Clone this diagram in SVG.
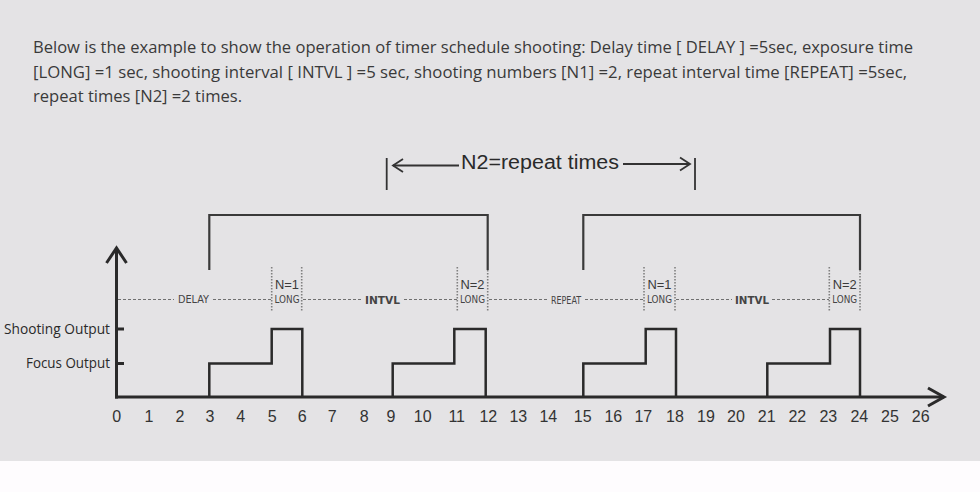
<svg xmlns="http://www.w3.org/2000/svg" width="980" height="492" viewBox="0 0 980 492">
<style>
.hdr{font-family:"Open Sans","Noto Sans",sans-serif;font-size:16px;fill:#3a3a3a}
.ylab{font-family:"Open Sans","Noto Sans",sans-serif;font-size:14px;fill:#2a2a2a;text-anchor:end}
.num{font-family:"Liberation Sans",Arial,sans-serif;font-size:16px;fill:#333;text-anchor:middle}
.small{font-family:"DejaVu Sans Condensed","Liberation Sans",sans-serif;font-size:11px;fill:#444;text-anchor:middle}
.nlab{font-family:"Liberation Sans",Arial,sans-serif;font-size:13px;fill:#3a3a3a;text-anchor:middle}
.big{font-family:"Liberation Sans",Arial,sans-serif;font-size:20px;fill:#2a2a2a}
.axis{stroke:#2a2a2a;stroke-width:3;fill:none}
.pulse{stroke:#2a2a2a;stroke-width:2.5;fill:none}
.brk{stroke:#3a3a3a;stroke-width:2.2;fill:none}
.dash{stroke:#707070;stroke-width:1;stroke-dasharray:3 2;fill:none}
.dot{stroke:#808080;stroke-width:1.6;stroke-dasharray:1.5 1.5;fill:none}
.thin{stroke:#333;stroke-width:1.8;fill:none}
</style>
<rect x="0" y="0" width="980" height="461" fill="#e4e3e5"/>
<rect x="0" y="461" width="980" height="31" fill="#fefcfe"/>
<g id="header">
<text class="hdr" x="33" y="53" textLength="880" lengthAdjust="spacingAndGlyphs">Below is the example to show the operation of timer schedule shooting: Delay time [ DELAY ] =5sec, exposure time</text>
<text class="hdr" x="33" y="77.5" textLength="874" lengthAdjust="spacingAndGlyphs">[LONG] =1 sec, shooting interval [ INTVL ] =5 sec, shooting numbers [N1] =2, repeat interval time [REPEAT] =5sec,</text>
<text class="hdr" x="33" y="102" textLength="209" lengthAdjust="spacingAndGlyphs">repeat times [N2] =2 times.</text>
</g>
<g id="axes">
<path class="axis" d="M116.5 398.5 V249"/>
<path class="axis" d="M106.5 263 L116.5 248 L126.5 263"/>
<path class="axis" d="M115 397 H944"/>
<path class="axis" d="M928 388 L944 397 L928 406"/>
<path class="axis" d="M116.5 329 H124 M116.5 363.5 H124"/>
<text class="ylab" x="110" y="334" textLength="106" lengthAdjust="spacingAndGlyphs">Shooting Output</text>
<text class="ylab" x="110" y="368" textLength="84" lengthAdjust="spacingAndGlyphs">Focus Output</text>
</g>
<g id="ticks">
<text class="num" x="116.7" y="421.7">0</text>
<text class="num" x="149" y="421.7">1</text>
<text class="num" x="180" y="421.7">2</text>
<text class="num" x="210" y="421.7">3</text>
<text class="num" x="240.7" y="421.7">4</text>
<text class="num" x="272.3" y="421.7">5</text>
<text class="num" x="302.3" y="421.7">6</text>
<text class="num" x="332.3" y="421.7">7</text>
<text class="num" x="364.3" y="421.7">8</text>
<text class="num" x="391" y="421.7">9</text>
<text class="num" x="422.7" y="421.7">10</text>
<text class="num" x="456.7" y="421.7">11</text>
<text class="num" x="488.3" y="421.7">12</text>
<text class="num" x="518.3" y="421.7">13</text>
<text class="num" x="548.3" y="421.7">14</text>
<text class="num" x="582.7" y="421.7">15</text>
<text class="num" x="613.3" y="421.7">16</text>
<text class="num" x="643.3" y="421.7">17</text>
<text class="num" x="675" y="421.7">18</text>
<text class="num" x="706" y="421.7">19</text>
<text class="num" x="736" y="421.7">20</text>
<text class="num" x="766.7" y="421.7">21</text>
<text class="num" x="797.3" y="421.7">22</text>
<text class="num" x="828.3" y="421.7">23</text>
<text class="num" x="859.3" y="421.7">24</text>
<text class="num" x="890" y="421.7">25</text>
<text class="num" x="920.7" y="421.7">26</text>
</g>
<g id="pulses">
<path class="pulse" d="M209.3 397 V363.5 H271.7 V329 H302.3 V397"/>
<path class="pulse" d="M392.7 397 V363.5 H454.3 V329 H485.7 V397"/>
<path class="pulse" d="M583.3 397 V363.5 H645.7 V329 H676 V397"/>
<path class="pulse" d="M767.3 397 V363.5 H830 V329 H860 V397"/>
</g>
<g id="connectors">
<path class="dash" d="M118 299.5 H174 M213 299.5 H271 M303 299.5 H361 M404 299.5 H457 M489 299.5 H547 M585 299.5 H644 M676 299.5 H732 M772 299.5 H829"/>
<path class="dot" d="M271.7 267 V311 M301.7 267 V311"/>
<path class="dot" d="M457.3 267 V311 M487.7 270 V311"/>
<path class="dot" d="M644 267 V311 M675 267 V311"/>
<path class="dot" d="M829.3 267 V311 M860 270 V311"/>
<path class="brk" d="M209.3 270 V215 H487.7 V270"/>
<path class="brk" d="M583.3 270 V215 H860 V270"/>
<path class="thin" d="M386.7 158 V190"/>
<path class="thin" d="M393 165.5 H459"/>
<path class="thin" d="M403 159 L393 165.5 L403 172"/>
<path class="thin" d="M623 164 H690"/>
<path class="thin" d="M680 157.5 L690 164 L680 170.5"/>
<path class="thin" d="M695 158 V190"/>
</g>
<g id="labels">
<text class="big" x="461" y="169" textLength="158" lengthAdjust="spacingAndGlyphs">N2=repeat times</text>
<text class="small" x="193.5" y="303.3" textLength="31" lengthAdjust="spacingAndGlyphs">DELAY</text>
<text class="small" x="382.5" y="304" textLength="35" lengthAdjust="spacingAndGlyphs" style="font-weight:bold">INTVL</text>
<text class="small" x="566" y="303.5" textLength="30" lengthAdjust="spacingAndGlyphs" style="font-size:10px">REPEAT</text>
<text class="small" x="752" y="304" textLength="34" lengthAdjust="spacingAndGlyphs" style="font-weight:bold">INTVL</text>
</g>
<g id="n1a">
<text class="nlab" x="287" y="289" textLength="24" lengthAdjust="spacingAndGlyphs">N=1</text>
<text class="small" x="287" y="303" textLength="25" lengthAdjust="spacingAndGlyphs" style="font-size:10px">LONG</text>
</g>
<g id="n2a">
<text class="nlab" x="472.5" y="289" textLength="24" lengthAdjust="spacingAndGlyphs">N=2</text>
<text class="small" x="472.5" y="303" textLength="25" lengthAdjust="spacingAndGlyphs" style="font-size:10px">LONG</text>
</g>
<g id="n1b">
<text class="nlab" x="659.5" y="289" textLength="24" lengthAdjust="spacingAndGlyphs">N=1</text>
<text class="small" x="659.5" y="303" textLength="25" lengthAdjust="spacingAndGlyphs" style="font-size:10px">LONG</text>
</g>
<g id="n2b">
<text class="nlab" x="844.7" y="289" textLength="24" lengthAdjust="spacingAndGlyphs">N=2</text>
<text class="small" x="844.7" y="303" textLength="25" lengthAdjust="spacingAndGlyphs" style="font-size:10px">LONG</text>
</g>
</svg>
